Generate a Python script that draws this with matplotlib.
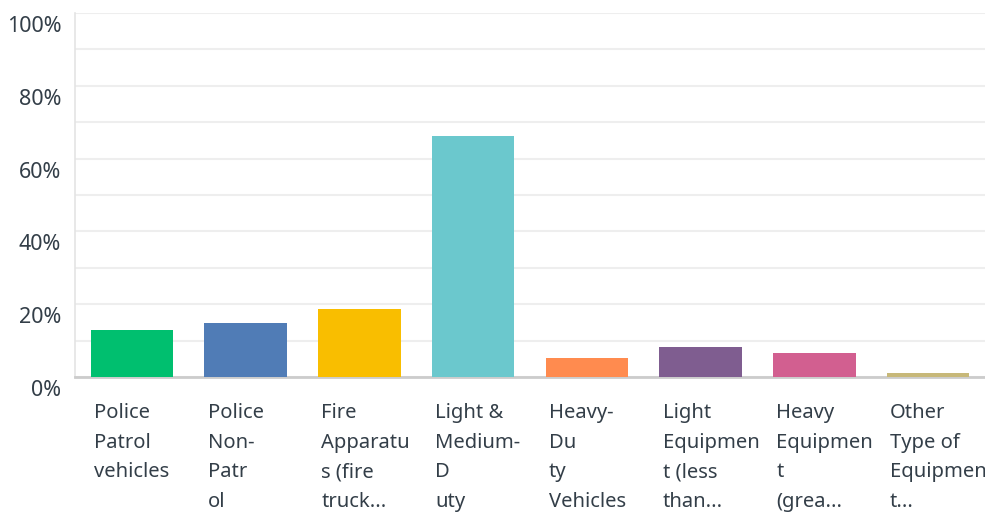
import matplotlib.pyplot as plt
import matplotlib.transforms as mtransforms

# vehicle / equipment categories and share of responses (%)
labels = ["Police\nPatrol\nvehicles",
          "Police\nNon-\nPatr\nol",
          "Fire\nApparatu\ns (fire\ntruck...",
          "Light &\nMedium-\nD\nuty",
          "Heavy-\nDu\nty\nVehicles",
          "Light\nEquipmen\nt (less\nthan...",
          "Heavy\nEquipmen\nt\n(grea...",
          "Other\nType of\nEquipmen\nt..."]
values = [12.8, 14.8, 18.7, 66.2, 5.2, 8.2, 6.6, 1.1]
colors = ["#00BF6F", "#507CB6", "#F9BE00", "#6BC8CD",
          "#FF8B4F", "#7F5D90", "#D25F90", "#C7B879"]
yticks = [0, 20, 40, 60, 80, 100]

plt.rcParams['font.family'] = ['Noto Sans', 'DejaVu Sans']
text_col = "#333E48"

fig = plt.figure(figsize=(9.85, 5.12), dpi=100)
ax = fig.add_axes([75 / 985, 135 / 512, 910 / 985, 364 / 512])

x = list(range(len(values)))
ax.bar(x, values, width=0.725, color=colors, zorder=3)

ax.set_xlim(-0.5, len(values) - 0.5)
ax.set_ylim(0, 100)
ax.set_yticks(yticks)
ax.set_yticks(range(10, 100, 20), minor=True)
ax.set_yticklabels([f"{t}%" for t in yticks], fontsize=15.5, color=text_col)
ax.tick_params(axis='y', which='both', length=0, pad=10)
ax.set_xticks([])
ax.grid(axis='y', which='both', color="#EEEEEE", linewidth=1.5, zorder=0)

# push the percent labels a little below their gridlines
offset = mtransforms.ScaledTranslation(0, -11 / 100, fig.dpi_scale_trans)
for lbl in ax.get_yticklabels():
    lbl.set_transform(lbl.get_transform() + offset)

for s in ['top', 'right']:
    ax.spines[s].set_visible(False)
ax.spines['left'].set_color("#E4E4E4")
ax.spines['left'].set_linewidth(1.2)
ax.spines['bottom'].set_color("#CCCCCC")
ax.spines['bottom'].set_linewidth(2)

# category names, wrapped and left aligned under each bar
trans = mtransforms.blended_transform_factory(ax.transData, ax.transAxes)
for i, lab in enumerate(labels):
    ax.text(i - 0.335, -0.072, lab, transform=trans, ha='left', va='top',
            fontsize=14.5, color=text_col, linespacing=1.64)

fig.savefig("out.png", dpi=100)
